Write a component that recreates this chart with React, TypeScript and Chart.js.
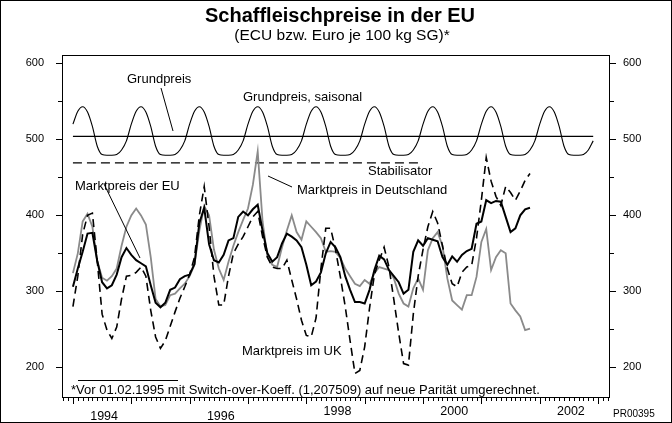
import React, { useEffect, useRef } from "react";
import { Chart, registerables } from "chart.js";

Chart.register(...registerables);

// ---- Data (monthly, month index 0 = Jan 1994) ----
const YEAR_LABELS = ["1994", "1996", "1998", "2000", "2002"];
const YEAR_LABEL_MONTHS = [6, 30, 54, 78, 102];
const Y_TICKS = [200, 300, 400, 500, 600];

const euPrice = [
  306, 330, 352, 376, 377, 340, 312, 304, 308, 322, 345, 357,
  348, 341, 337, 333, 308, 285, 279, 285, 302, 305, 316, 320,
  322, 336, 390, 410, 362, 341, 338, 348, 367, 370, 398, 405,
  400, 408, 414, 380, 350, 339, 345, 363, 376, 372, 367, 358,
  335, 308, 313, 325, 350, 365, 358, 345, 320, 302, 286, 286,
  284, 302, 328, 347, 342, 328, 320, 312, 297, 302, 352, 367,
  360, 370, 368, 366, 345, 335, 346, 339, 348, 353, 356, 389,
  392, 420, 416, 419, 418, 398, 378, 383, 400, 408, 410,
];

const dePrice = [
  324, 350, 392, 402, 385, 340, 318, 314, 320, 330, 360, 385,
  400, 409, 400, 388, 345, 290, 280, 282, 295, 297, 304, 310,
  320, 335, 380, 412, 400, 355, 330, 315, 339, 360, 378, 394,
  409, 440, 484, 392, 345, 335, 332, 358, 380, 400, 378, 368,
  392, 385, 378, 370, 352, 353, 352, 344, 330, 320, 310, 307,
  315, 310, 324, 332, 330, 328, 317, 297, 284, 280, 304, 317,
  302, 354, 370, 378, 360, 317, 288, 282, 276, 295, 295, 319,
  365, 382, 328, 345, 354, 350, 284, 275, 267, 249, 251,
];

const ukPrice = [
  280, 320, 375, 400, 403, 340, 270, 249, 238, 253, 290, 320,
  321, 325, 332, 320, 275, 240, 225, 235, 254, 273, 291, 306,
  322, 345, 400, 438, 385, 320, 282, 282, 320, 350, 362, 372,
  385, 398, 405, 372, 345, 332, 330, 330, 341, 315, 290, 262,
  242, 240, 265, 330, 383, 383, 355, 319, 280, 235, 192, 196,
  227, 278, 322, 341, 358, 332, 289, 245, 205, 203, 270, 320,
  355, 385, 405, 390, 360, 330, 310, 306, 325, 332, 334, 370,
  420, 476, 445, 425, 413, 438, 430, 420, 432, 446, 455,
];

const grundpreisSaisonal = [
  520, 537, 543, 536, 517, 491, 480, 479, 479, 480, 486, 498,
  520, 537, 543, 536, 517, 491, 480, 479, 479, 480, 486, 498,
  520, 537, 543, 536, 517, 491, 480, 479, 479, 480, 486, 498,
  520, 537, 543, 536, 517, 491, 480, 479, 479, 480, 486, 498,
  520, 537, 543, 536, 517, 491, 480, 479, 479, 480, 486, 498,
  520, 537, 543, 536, 517, 491, 480, 479, 479, 480, 486, 498,
  520, 537, 543, 536, 517, 491, 480, 479, 479, 480, 486, 498,
  520, 537, 543, 536, 517, 491, 480, 479, 479, 480, 486, 498,
  520, 537, 543, 536, 517, 491, 480, 479, 479, 480, 486, 498,
];

const GRUNDPREIS = 504;
const GRUNDPREIS_START = 0;
const GRUNDPREIS_END = 107;
const STABILISATOR = 469;
const STABILISATOR_START = 0;
const STABILISATOR_END = 72;

const FONT = "'Liberation Sans', Arial, Helvetica, sans-serif";
// vertical centre of each year label (the original sets the first two slightly lower)
const YEAR_LABEL_Y = [417, 417, 412, 412, 412];

const toPoints = (arr: number[]) => arr.map((v, i) => ({ x: i, y: v }));

const decorPlugin = {
  id: "decor",
  beforeDraw(chart: any) {
    const { ctx, width, height } = chart;
    ctx.save();
    ctx.fillStyle = "#fff";
    ctx.fillRect(0, 0, width, height);
    ctx.restore();
  },
  afterDraw(chart: any) {
    const { ctx, width, height } = chart;
    const { left, right, top, bottom } = chart.chartArea;
    const xs = chart.scales.x;
    const ys = chart.scales.y;
    ctx.save();
    ctx.strokeStyle = "#000";
    ctx.fillStyle = "#000";
    ctx.lineWidth = 1;

    // plot frame
    ctx.strokeRect(Math.round(left) + 0.5, Math.round(top) + 0.5, Math.round(right - left), Math.round(bottom - top));

    // y ticks (both sides)
    ctx.beginPath();
    for (let v = 200; v <= 600; v += 50) {
      const py = Math.round(ys.getPixelForValue(v)) + 0.5;
      const len = v % 100 === 0 ? 6 : 4;
      ctx.moveTo(Math.round(left) - len, py);
      ctx.lineTo(Math.round(left), py);
      ctx.moveTo(Math.round(right) + 1, py);
      ctx.lineTo(Math.round(right) + 1 + len, py);
    }
    // x ticks (monthly, yearly)
    for (let m = -2; m <= 110; m++) {
      const px = Math.round(xs.getPixelForValue(m)) + 0.5;
      if (px < left || px > right + 1) continue;
      const len = m % 12 === 0 ? 6 : 3;
      ctx.moveTo(px, Math.round(bottom) + 1);
      ctx.lineTo(px, Math.round(bottom) + 1 + len);
    }
    ctx.stroke();

    // year labels, centred in their year
    ctx.font = `12.5px ${FONT}`;
    ctx.textAlign = "center";
    ctx.textBaseline = "middle";
    YEAR_LABELS.forEach((lab, i) => {
      ctx.fillText(lab, xs.getPixelForValue(YEAR_LABEL_MONTHS[i]) + 2, YEAR_LABEL_Y[i]);
    });

    // title
    ctx.textAlign = "center";
    ctx.textBaseline = "alphabetic";
    ctx.font = `bold 20px ${FONT}`;
    ctx.fillText("Schaffleischpreise in der EU", 340, 22);
    ctx.font = `15.5px ${FONT}`;
    ctx.fillText("(ECU bzw. Euro je 100 kg SG)*", 342, 40);

    // annotations
    ctx.font = `13px ${FONT}`;
    ctx.textBaseline = "middle";
    ctx.textAlign = "left";
    ctx.fillText("Grundpreis", 127, 79);
    ctx.fillText("Grundpreis, saisonal", 243, 97);
    ctx.fillText("Stabilisator", 368, 171);
    ctx.fillText("Marktpreis in Deutschland", 297, 190);
    ctx.fillText("Marktpreis der EU", 75, 186);
    ctx.fillText("Marktpreis im UK", 242, 351);

    ctx.beginPath();
    ctx.moveTo(161, 88);
    ctx.lineTo(173, 131);
    ctx.moveTo(268, 176);
    ctx.lineTo(292, 187);
    ctx.moveTo(104, 184);
    ctx.lineTo(140, 258);
    ctx.stroke();

    // footnote
    ctx.beginPath();
    ctx.moveTo(78, 380.5);
    ctx.lineTo(178, 380.5);
    ctx.stroke();
    ctx.font = `13px ${FONT}`;
    ctx.fillText("*Vor 01.02.1995 mit Switch-over-Koeff. (1,207509) auf neue Parität umgerechnet.", 71, 390);

    ctx.font = `10px ${FONT}`;
    ctx.fillText("PR00395", 613, 414);

    // outer border
    ctx.strokeRect(0.5, 0.5, width - 1, height - 1);
    ctx.restore();
  },
};

export default function App() {
  const ref = useRef<HTMLCanvasElement | null>(null);

  useEffect(() => {
    document.body.style.margin = "0";
    const canvas = ref.current;
    if (!canvas) return;
    const yAxisCommon = {
      type: "linear" as const,
      min: 161,
      max: 611,
      grid: { display: false, drawTicks: false },
      border: { display: false },
      afterBuildTicks: (scale: any) => {
        scale.ticks = Y_TICKS.map((v) => ({ value: v }));
      },
    };
    const chart = new Chart(canvas, {
      type: "line",
      data: {
        datasets: [
          {
            label: "Marktpreis der EU",
            data: toPoints(euPrice),
            borderColor: "#000",
            borderWidth: 2,
            pointRadius: 0,
            tension: 0,
          },
          {
            label: "Marktpreis im UK",
            data: toPoints(ukPrice),
            borderColor: "#000",
            borderWidth: 1.6,
            borderDash: [8, 5],
            pointRadius: 0,
            tension: 0,
          },
          {
            label: "Marktpreis in Deutschland",
            data: toPoints(dePrice),
            borderColor: "#8a8a8a",
            borderWidth: 1.8,
            pointRadius: 0,
            tension: 0,
          },
          {
            label: "Grundpreis, saisonal",
            data: toPoints(grundpreisSaisonal),
            borderColor: "#000",
            borderWidth: 1.1,
            pointRadius: 0,
            cubicInterpolationMode: "monotone",
          },
          {
            label: "Grundpreis",
            data: [
              { x: GRUNDPREIS_START, y: GRUNDPREIS },
              { x: GRUNDPREIS_END, y: GRUNDPREIS },
            ],
            borderColor: "#000",
            borderWidth: 1.2,
            pointRadius: 0,
          },
          {
            label: "Stabilisator",
            data: [
              { x: STABILISATOR_START, y: STABILISATOR },
              { x: STABILISATOR_END, y: STABILISATOR },
            ],
            borderColor: "#000",
            borderWidth: 1.3,
            borderDash: [9, 5],
            pointRadius: 0,
          },
        ],
      },
      options: {
        responsive: false,
        animation: false,
        devicePixelRatio: 1,
        layout: { padding: { top: 55, left: 0, right: 0, bottom: 0 } },
        plugins: {
          legend: { display: false },
          title: { display: false },
          tooltip: { enabled: false },
        },
        scales: {
          x: {
            type: "linear",
            min: -2.25,
            max: 110.25,
            grid: { display: false, drawTicks: false },
            border: { display: false },
            ticks: { display: false },
            afterFit: (scale: any) => {
              scale.height = 26;
            },
          },
          y: {
            ...yAxisCommon,
            position: "left",
            afterFit: (scale: any) => {
              scale.width = 62;
            },
            ticks: { padding: 18, color: "#000", font: { family: FONT, size: 11 } },
          },
          y2: {
            ...yAxisCommon,
            position: "right",
            afterFit: (scale: any) => {
              scale.width = 63;
            },
            ticks: { padding: 14, color: "#000", font: { family: FONT, size: 11 } },
          },
        },
      },
      plugins: [decorPlugin],
    } as any);
    return () => chart.destroy();
  }, []);

  return <canvas ref={ref} width={672} height={423} style={{ display: "block" }} />;
}
